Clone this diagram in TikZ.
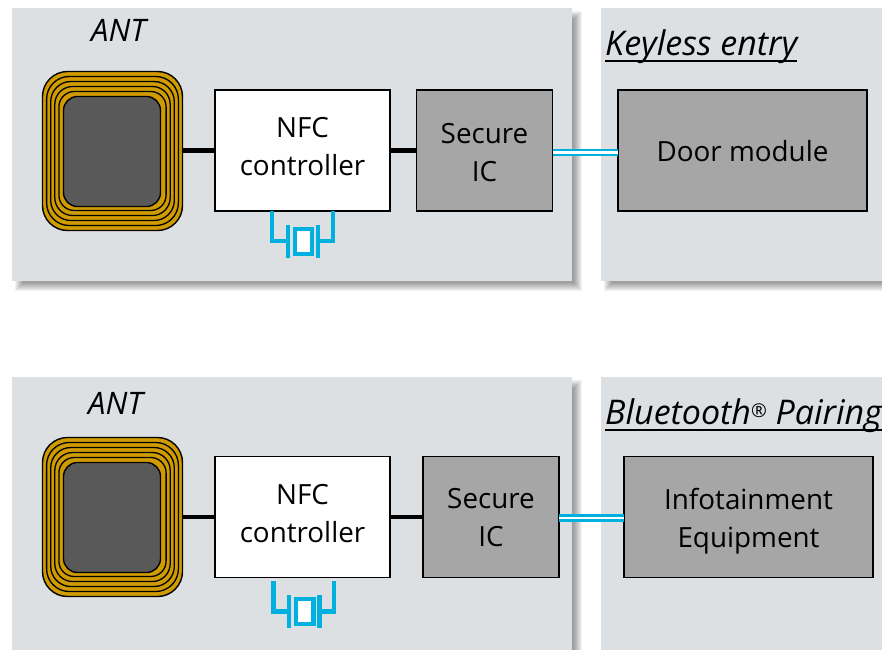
\documentclass[tikz,border=0pt]{standalone}
\usepackage{fontspec}
\setmainfont{Open Sans}
\definecolor{panelc}{HTML}{DDE0E3}
\definecolor{icc}{HTML}{A6A6A6}
\definecolor{goldc}{HTML}{CF9B00}
\definecolor{corec}{HTML}{595959}
\definecolor{cyanc}{HTML}{00B0DF}
\newcommand{\panelshadowed}[4]{%
  \foreach \i in {0,...,8}{
    \fill[black,opacity=.05] ({#1+3+\i},{#2+3+\i}) rectangle ({#3+10-\i},{#4+10-\i});
  }
  \fill[panelc] (#1,#2) rectangle (#3,#4);
}
\newcommand{\coilrings}[2]{%
  \foreach \k in {1,...,4}{
    \draw[ringline,rounded corners={25-2.4*\k}]
      ({#1+4.1*\k},{#2+5*\k}) rectangle ({#1+140-4.1*\k},{#2+159-5*\k});
  }
}
\newcommand{\crystal}[9]{%
  \draw[xtal] (#1,#7) |- (#2,#8);
  \draw[xtal] (#2,#9) -- (#2,{#9+33});
  \draw[xtal,fill=white] (#3,{#9+3.7}) rectangle (#4,{#9+28.7});
  \draw[xtal] (#5,#9) -- (#5,{#9+33});
  \draw[xtal] (#6,#7) |- (#5,#8);
}
\newsavebox{\ulbox}
\newcommand{\headul}[1]{\sbox{\ulbox}{#1}\rlap{\rule[-6.5pt]{\wd\ulbox}{1.7pt}}\usebox{\ulbox}}
\tikzset{
  box/.style={draw=black,line width=1.5,anchor=north west,inner sep=0,outer sep=0},
  whitebox/.style={box,fill=white},
  graybox/.style={box,fill=icc},
  boxtext/.style={align=center,inner sep=0,font=\fontsize{27.8}{38}\selectfont,text=black},
  coilbox/.style={draw=black,line width=1.4,fill=goldc,anchor=north west,inner sep=0,outer sep=0,
    minimum width=140,minimum height=159,rounded corners=25},
  corebox/.style={draw=black,line width=1.4,fill=corec,anchor=north west,inner sep=0,outer sep=0,
    minimum width=97,minimum height=110,rounded corners=14},
  ringline/.style={draw=black,line width=1.3},
  wire/.style={draw=black,line width=4.2},
  link/.style={draw=cyanc,double=white,line width=2.6,double distance=2.6},
  xtal/.style={draw=cyanc,line width=4.2},
  ital/.style={font=\fontsize{31}{34}\selectfont\itshape,text=black,inner sep=0,anchor=base west},
  headline/.style={ital,font=\fontsize{34}{38}\selectfont\itshape},
}
\begin{document}
\begin{tikzpicture}[x=1pt,y=-1pt]
\useasboundingbox (0,0) rectangle (882,649);
\clip (0,0) rectangle (882,649);
\panelshadowed{12}{8}{572}{281}
\panelshadowed{601}{8}{900}{281}
\panelshadowed{12}{377}{572}{670}
\panelshadowed{601}{377}{900}{670}

% upper row
\node[coilbox] (coilA) at (42.5,71.5) {};
\coilrings{42.5}{71.5}
\node[corebox] (coreA) at (63.5,96.5) {};
\node[whitebox,minimum width=175,minimum height=121] (nfcA) at (215,90) {};
\node[graybox,minimum width=136,minimum height=121] (icA) at (416.5,90) {};
\node[graybox,minimum width=249,minimum height=121] (doorA) at (618,90) {};
\node[boxtext] (nfcAt) at ([yshift=3.5pt]nfcA.center) {NFC\\controller};
\node[boxtext] (icAt) at ([yshift=-2pt]icA.center) {Secure\\IC};
\node[boxtext] (doorAt) at ([yshift=-1pt]doorA.center) {Door module};
\draw[wire] (coilA.east |- nfcA.west) -- (nfcA.west);
\draw[wire] (nfcA.east) -- (icA.west);
\draw[link] ([yshift=-2pt]icA.east) -- ([yshift=-2pt]doorA.west);
\crystal{272}{288}{294.6}{312}{318}{333}{211}{241.3}{225}
\node[ital] (antA) at (91,41) {ANT};
\node[headline] (keyless) at (605,55) {\headul{Keyless entry}};

% lower row
\node[coilbox] (coilB) at (42.5,437.5) {};
\coilrings{42.5}{437.5}
\node[corebox] (coreB) at (63.5,462.5) {};
\node[whitebox,minimum width=175,minimum height=121] (nfcB) at (215,456.5) {};
\node[graybox,minimum width=136,minimum height=121] (icB) at (423,456.5) {};
\node[graybox,minimum width=249,minimum height=121] (infoB) at (624,456.5) {};
\node[boxtext] (nfcBt) at ([yshift=3.5pt]nfcB.center) {NFC\\controller};
\node[boxtext] (icBt) at ([yshift=-1pt]icB.center) {Secure\\IC};
\node[boxtext] (infoBt) at ([yshift=-4pt]infoB.center) {Infotainment\\Equipment};
\draw[wire] (coilB.east |- nfcB.west) -- (nfcB.west);
\draw[wire] (nfcB.east) -- (icB.west);
\draw[link] ([yshift=-1pt]icB.east) -- ([yshift=-1pt]infoB.west);
\crystal{273.5}{289}{295.6}{313.4}{319.5}{334}{581}{611.5}{595}
\node[ital] (antB) at (88,414) {ANT};
\node[headline] (bt) at (605,424) {\headul{Bluetooth{\fontsize{19}{19}\selectfont\raisebox{7pt}{®}} Pairing}};
\end{tikzpicture}
\end{document}
